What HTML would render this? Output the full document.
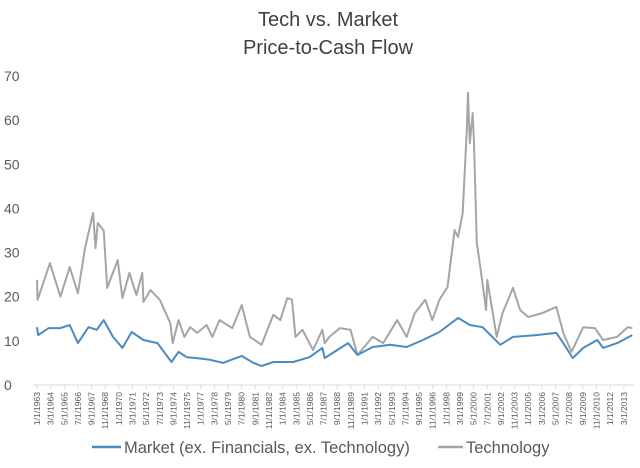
<!DOCTYPE html>
<html><head><meta charset="utf-8"><style>
body{margin:0;background:#fff;}
svg{display:block;font-family:"Liberation Sans",sans-serif;}
</style></head><body>
<svg id="chart" width="640" height="468">
<text x="328" y="26" text-anchor="middle" font-size="20" fill="#404040">Tech vs. Market</text>
<text x="328" y="54" text-anchor="middle" font-size="20" fill="#404040">Price-to-Cash Flow</text>
<g id="yaxis"></g>
<g id="xaxis"></g>
<g id="series"></g>
<g>
<line x1="92" y1="447" x2="121" y2="447" stroke="#4a8bc2" stroke-width="2.5"/>
<text x="124" y="453" font-size="16.5" fill="#595959">Market (ex. Financials, ex. Technology)</text>
<line x1="438" y1="447" x2="463" y2="447" stroke="#a5a5a5" stroke-width="2.5"/>
<text x="466" y="453" font-size="16.5" fill="#595959">Technology</text>
</g>
</svg>
<script>
const yTicks=[0,10,20,30,40,50,60,70];
const techDates=[1963.0,1963.05,1964.1,1965.0,1965.8,1966.5,1967.1,1967.8,1968.0,1968.2,1968.7,1969.0,1969.9,1970.3,1970.9,1971.5,1972.0,1972.1,1972.7,1973.5,1974.4,1974.6,1975.1,1975.6,1976.1,1976.7,1977.5,1978.0,1978.6,1979.7,1980.5,1981.2,1982.2,1983.2,1983.8,1984.4,1984.8,1985.1,1985.7,1986.6,1987.4,1987.6,1988.0,1988.9,1989.8,1990.4,1991.7,1992.6,1993.8,1994.6,1995.3,1996.2,1996.8,1997.4,1998.1,1998.7,1999.0,1999.4,1999.75,1999.85,2000.0,2000.25,2000.35,2000.6,2000.9,2001.4,2001.5,2002.3,2002.8,2003.7,2004.3,2005.0,2006.2,2007.4,2008.0,2008.7,2009.7,2010.7,2011.4,2012.6,2013.5,2013.9];
const techValues=[23.8,19.3,27.6,20,26.7,20.8,31,39,31,36.7,35,22,28.3,19.7,25.4,20.4,25.4,18.8,21.5,19.3,14,9.5,14.7,10.9,13.1,11.8,13.6,10.9,14.7,12.9,18.1,10.9,9.1,15.9,14.7,19.7,19.3,10.9,12.5,7.9,12.5,9.5,10.9,12.9,12.5,6.8,10.9,9.5,14.7,10.9,16.3,19.3,14.7,19.3,22.2,35.1,33.5,39,57.8,66.2,54.8,61.6,55.5,32.2,26.7,17,23.8,10.9,16.3,22,17,15.4,16.3,17.7,11.8,7.5,13.1,12.9,10.2,10.9,13.1,12.9];
const marketDates=[1963.0,1963.1,1964.0,1965.0,1965.8,1966.5,1967.4,1968.1,1968.7,1969.5,1970.3,1971.1,1972.1,1973.3,1974.5,1975.1,1975.8,1976.7,1977.8,1978.9,1980.5,1981.5,1982.2,1983.2,1984.9,1986.3,1987.4,1987.6,1988.0,1989.6,1990.4,1991.7,1993.2,1994.6,1996.0,1997.4,1999.0,2000.0,2001.1,2002.6,2003.7,2005.7,2007.4,2008.0,2008.8,2009.7,2010.9,2011.4,2012.6,2013.9];
const marketValues=[13.1,11.3,12.9,12.9,13.6,9.5,13.1,12.5,14.7,10.9,8.4,12,10.2,9.5,5.2,7.5,6.3,6.1,5.7,5.0,6.6,5.0,4.3,5.2,5.2,6.3,8.4,6.1,6.8,9.5,6.8,8.6,9.1,8.6,10.2,12,15.2,13.6,13.1,9.1,10.9,11.3,11.8,9.5,6.1,8.4,10.2,8.4,9.5,11.3];

const NS="http://www.w3.org/2000/svg";
const X0=37, PXM=0.9747;
function xScale(yr){return X0+(yr-1963)*12*PXM;}
function yScale(v){return 385-v*4.414;}
function mk(tag,attrs,parent){const e=document.createElementNS(NS,tag);for(const k in attrs)e.setAttribute(k,attrs[k]);parent.appendChild(e);return e;}

const ya=document.getElementById('yaxis');
yTicks.forEach(t=>{
  const e=mk('text',{x:4,y:yScale(t)+5,'font-size':14,fill:'#595959'},ya);
  
  
  e.textContent=t;
});

const xa=document.getElementById('xaxis');
const ax=mk('line',{x1:33,y1:385,x2:634,y2:385,stroke:'#d9d9d9','stroke-width':1},xa);


for(let m=0;m<=602;m+=14){
  const yr=1963+Math.floor(m/12), mo=m%12+1;
  const x=X0+m*PXM;
  const tk=mk('line',{x1:x,y1:385,x2:x,y2:389,stroke:'#d9d9d9'},xa);
  
  
  const t=mk('text',{transform:`translate(${x+3},392) rotate(-90)`,'text-anchor':'end','font-size':8.5,fill:'#595959'},xa);
  
  
  t.textContent=mo+'/1/'+yr;
}

const sg=document.getElementById('series');
function path(d,v){return d.map((yr,i)=>(i?'L':'M')+xScale(yr).toFixed(1)+','+yScale(v[i]).toFixed(1)).join('');}
const tp=mk('path',{d:path(techDates,techValues),fill:'none',stroke:'#a5a5a5','stroke-width':2,'stroke-linejoin':'round'},sg);


const mp=mk('path',{d:path(marketDates,marketValues),fill:'none',stroke:'#4a8bc2','stroke-width':2,'stroke-linejoin':'round'},sg);


</script>
</body></html>
